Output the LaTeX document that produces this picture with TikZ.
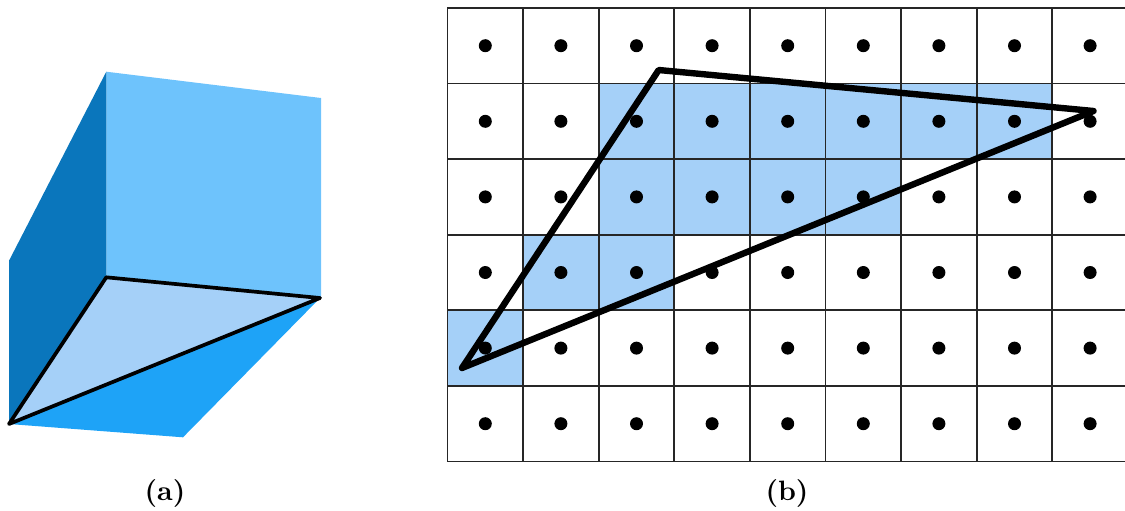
\documentclass[tikz,border=0pt]{standalone}
\usepackage{amsmath}
\usetikzlibrary{positioning}
\definecolor{facetop}{HTML}{6EC3FC}
\definecolor{faceside}{HTML}{0A76BC}
\definecolor{facelow}{HTML}{1EA3F7}
\definecolor{facetri}{HTML}{A5D0F8}
\begin{document}
\begin{tikzpicture}[
  x=0.5pt, y=-0.5pt,
  cell/.style={draw=black!85, line width=0.9pt, minimum size=37.8pt, inner sep=0pt, outer sep=0pt},
  litcell/.style={fill=facetri, minimum size=37.8pt, inner sep=0pt, outer sep=0pt},
  dot/.style={circle, fill=black, minimum size=6.5pt, inner sep=0pt},
  thinedge/.style={line width=1.85pt, line join=round, line cap=round},
  thickedge/.style={line width=3.2pt, line join=round, line cap=round},
  caption/.style={font=\bfseries, scale=1.4, inner sep=0pt}]
\useasboundingbox (0,0) rectangle (1125,510);
% part a
\coordinate (backtop) at (106.3,71.7);
\coordinate (righttop) at (321,98);
\coordinate (rightlow) at (320,298);
\coordinate (rightface) at (321,298.3);
\coordinate (mid) at (106.3,277.3);
\coordinate (lefttop) at (9,260.7);
\coordinate (leftlow) at (9,424);
\coordinate (front) at (183,437.3);
\fill[facetop] (backtop) -- (righttop) -- (rightface) -- (mid) -- cycle;
\fill[faceside] (backtop) -- (mid) -- (leftlow) -- (lefttop) -- cycle;
\fill[facelow] (leftlow) -- (rightlow) -- (front) -- cycle;
\fill[facetri] (mid) -- (rightlow) -- (leftlow) -- cycle;
\draw[thinedge] (mid) -- (rightlow) -- (leftlow) -- cycle;
\node[caption] (capa) at (165,493) {(a)};
% part b
\foreach \c/\r in {2/1,3/1,4/1,5/1,6/1,7/1,2/2,3/2,4/2,5/2,1/3,2/3,0/4}
  \node[litcell] (lit\c\r) at ({485.3+75.6*\c},{45.7+75.6*\r}) {};
\foreach \c in {0,...,8}
  \foreach \r in {0,...,5} {
    \node[cell] (cell\c\r) at ({485.3+75.6*\c},{45.7+75.6*\r}) {};
    \node[dot] (dot\c\r) at (cell\c\r.center) {};
  }
\coordinate (apex) at (658.7,70);
\coordinate (east) at (1093.5,111);
\coordinate (west) at (462,368);
\draw[thickedge] (apex) -- (east) -- (west) -- cycle;
\node[caption] (capb) at (787,493) {(b)};
\end{tikzpicture}
\end{document}
